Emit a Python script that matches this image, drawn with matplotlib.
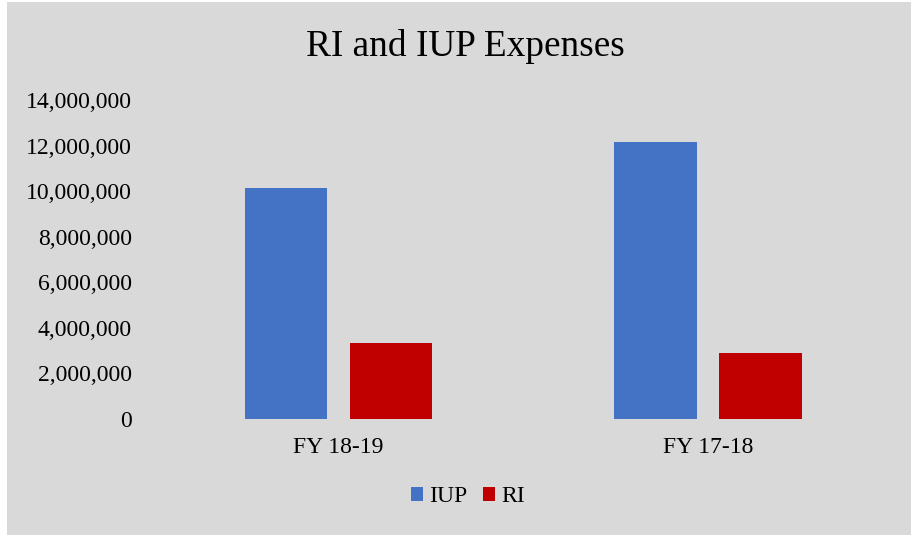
import matplotlib
matplotlib.use("Agg")
import matplotlib.pyplot as plt
from matplotlib.patches import Rectangle
from matplotlib.ticker import FuncFormatter
import numpy as np

categories = ["FY 18-19", "FY 17-18"]
series_names = ["IUP", "RI"]
iup_values = [10150000, 12150000]
ri_values = [3330000, 2890000]
colors = ["#4472C4", "#C00000"]
yticks = [0, 2000000, 4000000, 6000000, 8000000, 10000000, 12000000, 14000000]

plt.rcParams['font.family'] = ['Liberation Serif', 'DejaVu Serif']

fig = plt.figure(figsize=(9.12, 5.35), dpi=100)
fig.patch.set_facecolor("white")
bg = Rectangle((7/912, 0), 904/912, 533/535, transform=fig.transFigure,
               facecolor="#D9D9D9", edgecolor="none", zorder=-10)
fig.patches.append(bg)

ax = fig.add_axes([153.75/912, 116/535, 739/912, 319/535])
ax.set_facecolor("none")
ax.set_zorder(1)

x = np.arange(len(categories))
w = 0.224
gap = 0.06
ax.bar(x - (w + gap)/2, iup_values, width=w, color=colors[0], label=series_names[0], zorder=2)
ax.bar(x + (w + gap)/2, ri_values, width=w, color=colors[1], label=series_names[1], zorder=2)

ax.set_xlim(-0.5, 1.5)
ax.set_ylim(0, 14000000)
ax.set_yticks(yticks)
ax.yaxis.set_major_formatter(FuncFormatter(lambda v, p: f"{int(v):,}"))
ax.set_xticks(x)
ax.set_xticklabels(categories)
ax.tick_params(axis='both', length=0, labelsize=17, colors="#000000")
ax.tick_params(axis='y', pad=15.8)
ax.tick_params(axis='x', pad=13)
for s in ax.spines.values():
    s.set_visible(False)

fig.text(465/912, 1 - 47/535, "RI and IUP Expenses", ha="center", va="center", fontsize=26.8)

leg = fig.legend(loc="center", bbox_to_anchor=(468/912, 1 - 497/535), ncol=2,
                 frameon=False, fontsize=17, handlelength=0.5, handleheight=0.5,
                 handletextpad=0.25, columnspacing=0.68)

fig.savefig("out.png", dpi=100)
